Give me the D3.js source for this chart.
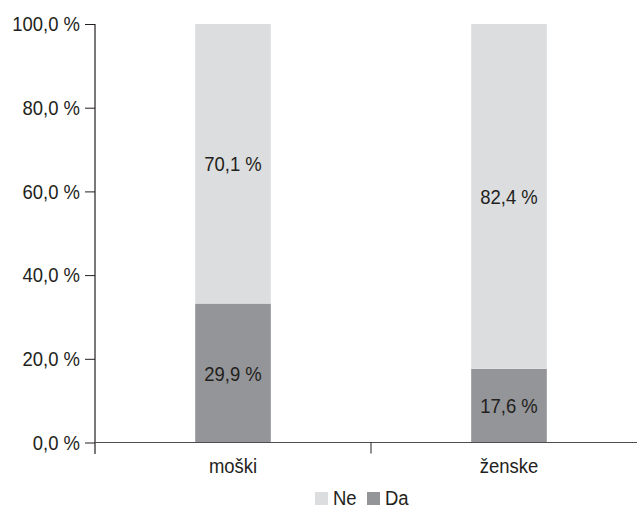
<!DOCTYPE html>
<html>
<head>
<meta charset="utf-8">
<script src="https://cdn.jsdelivr.net/npm/d3@7"></script>
<style>
  body { margin: 0; background: #fff; }
  text { font-family: "Liberation Sans", Arial, sans-serif; fill: #231f20; }
</style>
</head>
<body>
<svg id="chart"></svg>
<script>
// categories and series (bar heights as drawn, labels as printed)
const categories = ["moški", "ženske"];
const daValues = [33.2, 17.6];
const neValues = [66.8, 82.4];
const daLabels = ["29,9 %", "17,6 %"];
const neLabels = ["70,1 %", "82,4 %"];
const yTicks = [0, 20, 40, 60, 80, 100];
const seriesNames = ["Ne", "Da"];
const colors = { Ne: "#dcdddf", Da: "#939598" };

const width = 637;
const height = 509;
const sx = 0.88; // narrow the glyphs a bit
const svg = d3.select("#chart").attr("width", width).attr("height", height);

const x0 = 95, x1 = 647;
const xScale = d3.scaleBand().domain(categories).range([x0, x1]).padding(0);
const barW = xScale.bandwidth() * 0.274;

const yScale = d3.scaleLinear().domain([0, 100]).range([442.5, 24]);

const rows = categories.map((c, i) => ({ cat: c, Da: daValues[i], Ne: neValues[i], daLabel: daLabels[i], neLabel: neLabels[i] }));
const stack = d3.stack().keys(["Da", "Ne"])(rows);

// places a narrowed text at (x, y)
const narrow = (sel, fx, fy) =>
  sel.attr("transform", (d, i) => `translate(${fx(d, i)},${fy(d, i)}) scale(${sx},1)`);

// Bars
svg.append("g")
  .selectAll("g")
  .data(stack)
  .join("g")
  .attr("fill", (s) => colors[s.key])
  .selectAll("rect")
  .data((s) => s)
  .join("rect")
  .attr("x", (d) => xScale(d.data.cat) + (xScale.bandwidth() - barW) / 2)
  .attr("width", barW)
  .attr("y", (d) => yScale(d[1]))
  .attr("height", (d) => yScale(d[0]) - yScale(d[1]));

// Value labels
svg.append("g")
  .selectAll("g")
  .data(stack)
  .join("g")
  .selectAll("text")
  .data((s) => s.map((d) => ({ d, key: s.key })))
  .join("text")
  .call(narrow,
    (o) => xScale(o.d.data.cat) + xScale.bandwidth() / 2,
    (o) => (yScale(o.d[0]) + yScale(o.d[1])) / 2)
  .attr("dy", "0.36em")
  .attr("text-anchor", "middle")
  .style("font-size", "21px")
  .text((o) => (o.key === "Da" ? o.d.data.daLabel : o.d.data.neLabel));

// Y axis
const yAxis = svg.append("g")
  .attr("transform", `translate(${x0},0)`)
  .call(d3.axisLeft(yScale).tickValues(yTicks).tickSize(10).tickPadding(5)
    .tickFormat((v) => d3.format(".1f")(v).replace(".", ",") + " %"));
yAxis.select(".domain").attr("d", `M0,${yScale(100)}V454`).attr("stroke", "#231f20").attr("stroke-width", 1.2);
yAxis.selectAll(".tick line").attr("stroke", "#231f20");
yAxis.selectAll("text")
  .attr("x", -15 / sx)
  .attr("transform", `scale(${sx},1)`)
  .style("font-size", "21px").attr("fill", "#231f20");

// X axis
const xAxis = svg.append("g").attr("transform", `translate(0,${yScale(0)})`);
xAxis.append("line").attr("x1", x0).attr("x2", width).attr("stroke", "#4d4d4f").attr("stroke-width", 1.2);
xAxis.selectAll(".sep")
  .data(categories.slice(1))
  .join("line")
  .attr("x1", (c) => xScale(c)).attr("x2", (c) => xScale(c))
  .attr("y1", 0).attr("y2", 11)
  .attr("stroke", "#231f20");
xAxis.selectAll(".cat")
  .data(categories)
  .join("text")
  .call(narrow, (c) => xScale(c) + xScale.bandwidth() / 2, () => 30)
  .attr("text-anchor", "middle")
  .style("font-size", "21px")
  .text((c) => c);

// Legend
const legend = svg.append("g").attr("transform", "translate(315,492)");
const lg = legend.selectAll("g").data(seriesNames).join("g")
  .attr("transform", (d, i) => `translate(${i * 52},0)`);
lg.append("rect").attr("width", 13).attr("height", 13).attr("fill", (d) => colors[d]);
lg.append("text").call(narrow, () => 18, () => 13).style("font-size", "21px").text((d) => d);
</script>
</body>
</html>
